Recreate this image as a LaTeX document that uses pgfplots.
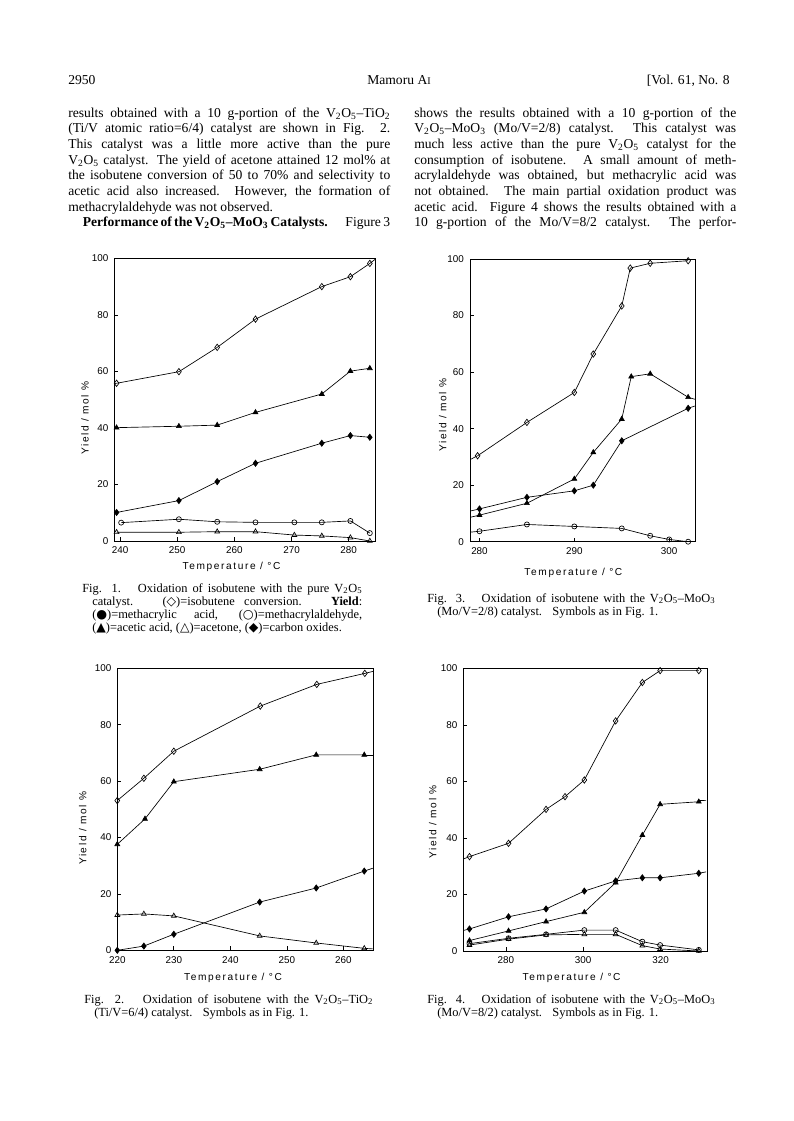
\documentclass[border=0pt]{standalone}
\usepackage{fontspec}
\setmainfont{Liberation Serif}
\newfontfamily\symf{DejaVu Sans}
\newfontfamily\plotf[LetterSpace=16]{Liberation Sans}
\newfontfamily\tickf{Liberation Sans}
\usepackage{pgfplots}
\pgfplotsset{compat=1.18}
\newcommand\sub[1]{\textsubscript{#1}}
\newcommand\body{\fontsize{10.2}{12}\selectfont}
\newcommand\capf{\fontsize{9.3}{11}\selectfont}
\newcommand\TL[3]{\node[anchor=base west,inner sep=0pt] at (#1,-#2) {\body\makebox[241.5pt][s]{#3}};}
\newcommand\TN[3]{\node[anchor=base west,inner sep=0pt] at (#1,-#2) {\body #3};}
\newcommand\CL[4]{\node[anchor=base west,inner sep=0pt] at (#1,-#2) {\capf\makebox[#3][s]{#4}};}
\newcommand\CN[3]{\node[anchor=base west,inner sep=0pt] at (#1,-#2) {\capf #3};}
\pgfplotsset{
 chart/.style={
  scale only axis,
  axis line style={line width=0.6pt},
  ymin=0, ymax=100, ytick={0,20,...,100},
  tick align=inside, xtick pos=left, ytick pos=left,
  major tick length=3pt,
  tick style={line width=0.5pt, black},
  ticklabel style={font=\tickf\fontsize{7.4}{8}\selectfont},
  /pgf/number format/assume math mode=true,
  /pgf/number format/1000 sep={},
  xticklabel style={yshift=-1pt},
  yticklabel style={xshift=-1pt},
  label style={font=\plotf\fontsize{7.6}{8}\selectfont},
  xlabel={Temperature / °C}, ylabel={Yield / mol \%},
 },
 conv/.style={black, line width=0.5pt, mark=diamond, mark size=2.4pt, mark options={solid, fill=white, line width=0.5pt}},
 acet/.style={black, line width=0.5pt, mark=triangle*, mark size=2.1pt, mark options={solid, fill=black}},
 cox/.style={black, line width=0.5pt, mark=diamond*, mark size=2.3pt, mark options={solid, fill=black}},
 mald/.style={black, line width=0.5pt, mark=o, mark size=1.9pt, mark options={solid, fill=white, line width=0.5pt}},
 acetone/.style={black, line width=0.5pt, mark=triangle, mark size=2.1pt, mark options={solid, fill=white, line width=0.5pt}},
 ext/.style={black, line width=0.5pt, no marks, forget plot},
}
\begin{document}
\begin{tikzpicture}[x=0.75pt,y=0.75pt]
\fill[white] (0,0) rectangle (793,-1121);
\path[use as bounding box] (0,0) rectangle (793,-1121);

% header
\node[anchor=base west,inner sep=0pt] at (68,-84) {\body 2950};
\node[anchor=base,inner sep=0pt] at (399,-84) {\body Mamoru A{\fontsize{7.6}{8}\selectfont I}};
\node[anchor=base east,inner sep=0pt] at (730,-84) {\body [Vol. 61, No. 8};

% left column
\TL{68}{117}{results obtained with a 10 g-portion of the V\sub2O\sub5--TiO\sub2}
\TL{68}{132.7}{(Ti/V atomic ratio=6/4) catalyst are shown in Fig. 2.}
\TL{68}{148.4}{This catalyst was a little more active than the pure}
\TL{68}{164.1}{V\sub2O\sub5 catalyst. The yield of acetone attained 12 mol\% at}
\TL{68}{179.8}{the isobutene conversion of 50 to 70\% and selectivity to}
\TL{68}{195.5}{acetic acid also increased. However, the formation of}
\TN{68}{211.2}{methacrylaldehyde was not observed.}
\node[anchor=base west,inner sep=0pt] at (82.5,-226.9) {\body\makebox[230.5pt][s]{\textbf{Performance of the V\sub2O\sub5--MoO\sub3 Catalysts.}\hspace{1em} Figure 3}};

% right column
\TL{414}{117}{shows the results obtained with a 10 g-portion of the}
\TL{414}{132.7}{V\sub2O\sub5--MoO\sub3 (Mo/V=2/8) catalyst. This catalyst was}
\TL{414}{148.4}{much less active than the pure V\sub2O\sub5 catalyst for the}
\TL{414}{164.1}{consumption of isobutene. A small amount of meth-}
\TL{414}{179.8}{acrylaldehyde was obtained, but methacrylic acid was}
\TL{414}{195.5}{not obtained. The main partial oxidation product was}
\TL{414}{211.2}{acetic acid. Figure 4 shows the results obtained with a}
\TL{414}{226.9}{10 g-portion of the Mo/V=8/2 catalyst. The perfor-}

% ---------- Fig. 1 ----------
\begin{axis}[chart, at={(85.725pt,-405.75pt)}, anchor=south west,
  width=195.5pt, height=212pt,
  xmin=239, xmax=284.6, xtick={240,250,...,280},
  xlabel style={at={(axis description cs:0.45,-0.091)}, anchor=center},
  ylabel style={at={(axis description cs:-0.112,0.435)}, anchor=center}]
\addplot[conv] coordinates {(239.4,55.8) (250.3,59.9) (257.0,68.5) (263.7,78.5) (275.3,90.0) (280.3,93.5) (283.7,98.2)};
\addplot[acet] coordinates {(239.4,40.1) (250.3,40.6) (257.0,41.0) (263.7,45.5) (275.3,52.0) (280.3,60.1) (283.7,61.1)};
\addplot[cox] coordinates {(239.4,10.1) (250.3,14.3) (257.0,21.0) (263.7,27.5) (275.3,34.6) (280.3,37.3) (283.7,36.7)};
\addplot[mald] coordinates {(240.2,6.5) (250.3,7.7) (257.0,6.8) (263.7,6.6) (270.5,6.6) (275.3,6.6) (280.3,7.1) (283.7,2.8)};
\addplot[acetone] coordinates {(239.4,3.1) (250.3,3.1) (257.0,3.3) (263.7,3.3) (270.5,2.1) (275.3,1.8) (280.3,1.2) (283.7,0.0)};
\addplot[ext] coordinates {(239.0,55.6) (239.4,55.8)};
\addplot[ext] coordinates {(283.7,98.2) (284.6,99.6)};
\end{axis}

% ---------- Fig. 3 ----------
\begin{axis}[chart, at={(352.5pt,-406.275pt)}, anchor=south west,
  width=169.3pt, height=212pt,
  xmin=279, xmax=302.8, xtick={280,290,300},
  xlabel style={at={(axis description cs:0.458,-0.112)}, anchor=center},
  ylabel style={at={(axis description cs:-0.121,0.448)}, anchor=center}]
\addplot[conv] coordinates {(279.8,30.4) (285.0,42.2) (290.0,52.8) (292.0,66.4) (295.0,83.4) (295.9,96.8) (298.0,98.5) (302.0,99.4)};
\addplot[acet] coordinates {(280.0,9.4) (285.0,13.6) (290.0,22.2) (292.0,31.6) (295.0,43.4) (296.0,58.4) (298.0,59.4) (302.0,51.1)};
\addplot[cox] coordinates {(280.0,11.6) (285.0,15.7) (290.0,18.0) (292.0,20.0) (295.0,35.7) (302.0,47.2)};
\addplot[mald] coordinates {(280.0,3.7) (285.0,6.1) (290.0,5.4) (295.0,4.7) (298.0,2.1) (300.0,0.8) (302.0,0.0)};
\addplot[ext] coordinates {(279.1,29.2) (279.8,30.4)};
\addplot[ext] coordinates {(279.1,8.7) (280.0,9.4)};
\addplot[ext] coordinates {(279.1,10.9) (280.0,11.6)};
\addplot[ext] coordinates {(279.1,3.4) (280.0,3.7)};
\addplot[ext] coordinates {(302.0,51.1) (302.7,50.4)};
\addplot[ext] coordinates {(302.0,47.2) (302.7,48.0)};
\end{axis}

% ---------- Fig. 2 ----------
\begin{axis}[chart, at={(87.975pt,-712.725pt)}, anchor=south west,
  width=192pt, height=211.5pt,
  xmin=220, xmax=265.3, xtick={220,230,...,260},
  xlabel style={at={(axis description cs:0.452,-0.097)}, anchor=center},
  ylabel style={at={(axis description cs:-0.135,0.433)}, anchor=center}]
\addplot[conv] coordinates {(220.0,53.1) (224.7,61.0) (230.0,70.6) (245.3,86.6) (255.3,94.3) (263.8,98.2)};
\addplot[acet] coordinates {(220.0,37.6) (224.9,46.6) (230.0,59.8) (245.2,64.2) (255.2,69.3) (263.7,69.3)};
\addplot[cox] coordinates {(220.0,0.0) (224.7,1.5) (230.0,5.7) (245.2,17.1) (255.2,22.1) (263.7,28.1)};
\addplot[acetone] coordinates {(220.0,12.5) (224.7,12.9) (230.0,12.2) (245.2,5.1) (255.2,2.6) (263.7,0.7)};
\addplot[ext] coordinates {(263.8,98.2) (265.2,98.9)};
\addplot[ext] coordinates {(263.7,69.3) (265.2,69.3)};
\addplot[ext] coordinates {(263.7,28.1) (265.2,29.1)};
\addplot[ext] coordinates {(263.7,0.7) (265.2,0.5)};
\end{axis}

% ---------- Fig. 4 ----------
\begin{axis}[chart, at={(347.475pt,-713.25pt)}, anchor=south west,
  width=183pt, height=212pt,
  xmin=269, xmax=332.1, xtick={280,300,320},
  xlabel style={at={(axis description cs:0.444,-0.094)}, anchor=center},
  ylabel style={at={(axis description cs:-0.125,0.457)}, anchor=center}]
\addplot[conv] coordinates {(270.6,33.4) (280.7,38.1) (290.4,50.1) (295.3,54.6) (300.3,60.5) (308.4,81.4) (315.3,95.0) (319.9,99.2) (329.9,99.2)};
\addplot[acet] coordinates {(270.6,3.7) (280.7,7.1) (290.4,10.4) (300.3,13.7) (308.4,24.2) (315.3,41.0) (319.9,51.9) (329.9,52.8)};
\addplot[cox] coordinates {(270.6,7.8) (280.7,12.1) (290.4,14.9) (300.3,21.2) (308.4,24.8) (315.3,25.9) (319.9,25.9) (329.9,27.5)};
\addplot[mald] coordinates {(270.6,2.6) (280.7,4.5) (290.4,5.9) (300.3,7.4) (308.4,7.4) (315.3,3.3) (319.9,2.1) (329.9,0.4)};
\addplot[acetone] coordinates {(270.6,2.1) (280.7,4.2) (290.4,5.7) (300.3,5.9) (308.4,5.9) (315.3,1.9) (319.9,0.7) (329.9,0.0)};
\addplot[ext] coordinates {(269.1,32.6) (270.6,33.4)};
\addplot[ext] coordinates {(269.1,7.3) (270.6,7.8)};
\addplot[ext] coordinates {(329.9,53.2) (331.8,53.3)};
\addplot[ext] coordinates {(329.9,27.5) (331.8,28.0)};
\end{axis}

% captions
\CL{82}{592}{210pt}{Fig. 1.\hspace{0.6em} Oxidation of isobutene with the pure V\sub2O\sub5}
\CL{92}{605}{202.5pt}{catalyst.\hspace{0.5em} ({\symf\char"25C7})=isobutene conversion.\hspace{0.5em} \textbf{Yield}:}
\CL{92}{618}{202.5pt}{({\symf\char"25CF})=methacrylic acid, ({\symf\char"25CB})=methacrylaldehyde,}
\CN{92}{631}{({\symf\char"25B2})=acetic acid, ({\symf\char"25B3})=acetone, ({\symf\char"25C6})=carbon oxides.}

\CL{427}{602}{216pt}{Fig. 3.\hspace{0.6em} Oxidation of isobutene with the V\sub2O\sub5--MoO\sub3}
\CN{437}{615.5}{(Mo/V=2/8) catalyst.\hspace{0.5em} Symbols as in Fig. 1.}

\CL{84}{1003}{216.7pt}{Fig. 2.\hspace{0.6em} Oxidation of isobutene with the V\sub2O\sub5--TiO\sub2}
\CN{94}{1016}{(Ti/V=6/4) catalyst.\hspace{0.5em} Symbols as in Fig. 1.}

\CL{427}{1003}{216pt}{Fig. 4.\hspace{0.6em} Oxidation of isobutene with the V\sub2O\sub5--MoO\sub3}
\CN{437}{1016}{(Mo/V=8/2) catalyst.\hspace{0.5em} Symbols as in Fig. 1.}
\end{tikzpicture}
\end{document}
